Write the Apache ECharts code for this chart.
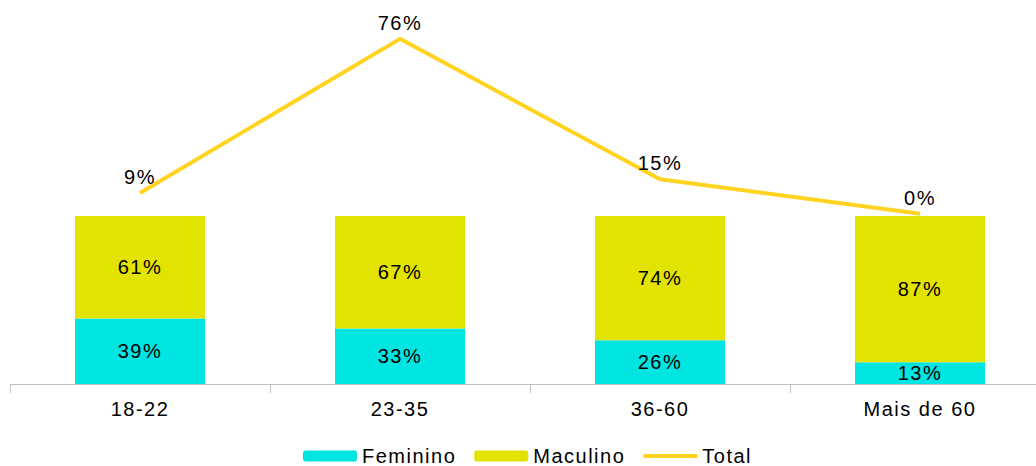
<!DOCTYPE html>
<html>
<head>
<meta charset="utf-8">
<script src="https://cdn.jsdelivr.net/npm/echarts@6/dist/echarts.min.js"></script>
<style>
  html, body { margin: 0; padding: 0; background: #fff; }
  #chart { width: 1036px; height: 466px; }
  /* slightly wider tracking for all chart text */
  #chart svg text { letter-spacing: 1.5px; }
</style>
</head>
<body>
<div id="chart"></div>
<script>
// Age groups and shares (percent)
var categories = ['18-22', '23-35', '36-60', 'Mais de 60'];
var feminino = [39, 33, 26, 13];
var maculino = [61, 67, 74, 87];
var total = [9, 76, 15, 0];

var FONT = '"Liberation Sans", Arial, sans-serif';
var SIZE = 20;
var pct = function (p) { return p.value + '%'; };

var chart = echarts.init(document.getElementById('chart'), null, { renderer: 'svg' });
chart.setOption({
  animation: false,
  textStyle: { fontFamily: FONT },
  // the last category runs past the right edge of the canvas
  grid: { left: 10, right: -14, top: 17, bottom: 82, outerBoundsMode: 'none', containLabel: false },
  legend: {
    left: 303,
    top: 446,
    padding: 0,
    itemWidth: 54,
    itemHeight: 11,
    itemGap: 30,
    textStyle: { fontFamily: FONT, fontSize: SIZE, color: '#000' },
    data: [
      { name: 'Feminino' },
      { name: 'Maculino' },
      { name: 'Total', icon: 'path://M0,0 H54 V4 H0 Z' }
    ]
  },
  xAxis: {
    type: 'category',
    data: categories,
    boundaryGap: true,
    axisLine: { lineStyle: { color: '#c0c0c0', width: 1 } },
    axisTick: { show: true, length: 9, interval: 0, lineStyle: { color: '#c0c0c0' } },
    axisLabel: { fontFamily: FONT, fontSize: SIZE, color: '#000', margin: 15, interval: 0 }
  },
  yAxis: [
    { type: 'value', min: 0, max: 218.5, show: false, splitLine: { show: false } },
    { type: 'value', min: -74, max: 85.5, show: false, splitLine: { show: false } }
  ],
  series: [
    {
      name: 'Feminino',
      type: 'bar',
      stack: 'sexo',
      barWidth: '50%',
      data: feminino,
      itemStyle: { color: '#00E4E2' },
      label: { show: true, position: 'inside', formatter: pct, fontFamily: FONT, fontSize: SIZE, color: '#000' }
    },
    {
      name: 'Maculino',
      type: 'bar',
      stack: 'sexo',
      barWidth: '50%',
      data: maculino,
      itemStyle: { color: '#E2E300' },
      label: { show: true, position: 'inside', formatter: pct, fontFamily: FONT, fontSize: SIZE, color: '#000' }
    },
    {
      name: 'Total',
      type: 'line',
      yAxisIndex: 1,
      data: total,
      symbol: 'circle',
      symbolSize: 0.01,
      showSymbol: true,
      lineStyle: { color: '#FFD320', width: 4 },
      itemStyle: { color: '#FFD320' },
      label: { show: true, position: 'top', distance: 6, formatter: pct, fontFamily: FONT, fontSize: SIZE, color: '#000' },
      z: 5
    }
  ]
});
</script>
</body>
</html>
